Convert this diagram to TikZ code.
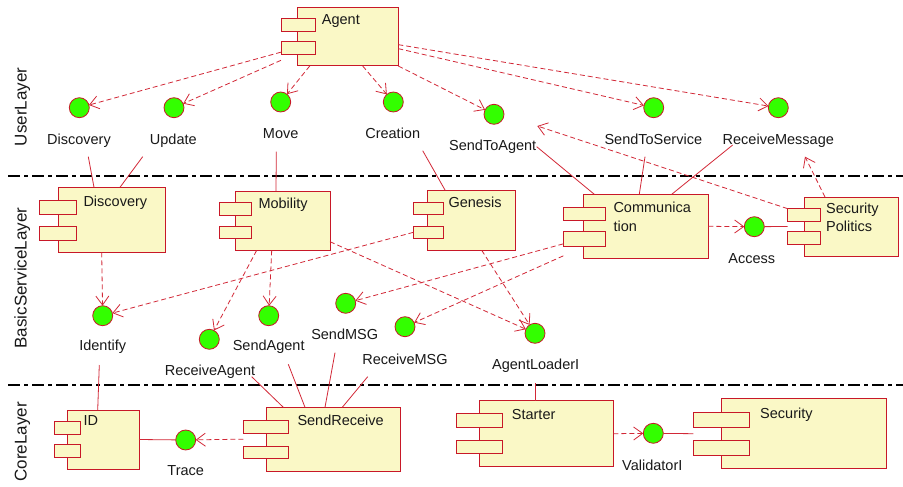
\documentclass[tikz,border=0pt]{standalone}
\usepackage{fontspec}
\setmainfont{Liberation Sans}
\usetikzlibrary{arrows.meta}
\definecolor{cred}{RGB}{200,24,40}
\definecolor{cyel}{RGB}{250,248,198}
\definecolor{igreen}{RGB}{51,255,0}
\definecolor{cline}{RGB}{210,40,55}
\definecolor{txt}{RGB}{25,25,25}
\newcommand\ubox[6]{\node[#1, anchor=north west, minimum width={(#5)-(#3)}, minimum height={(#6)-(#4)}] (#2) at (#3,#4) {};}
\tikzset{
  comp/.style={draw=cred, fill=cyel, line width=1pt, inner sep=0pt, outer sep=0pt, rectangle},
  port/.style={comp},
  iface/.style={circle, draw=cred, fill=igreen, minimum size=20pt, inner sep=0pt, outer sep=0pt, line width=0.8pt},
  ctext/.style={font=\fontsize{14.5}{17}\selectfont, text=txt, inner sep=0pt, text height=10.4pt, text depth=0pt},
  ltext/.style={font=\fontsize{17}{20}\selectfont, text=txt, inner sep=0pt, rotate=90, text height=12.2pt, text depth=0pt},
  dep/.style={draw=cline, line width=0.8pt, dash pattern=on 5pt off 3pt, -{Straight Barb[length=9pt,width=13pt]}},
  real/.style={draw=cline, line width=0.8pt},
  layerline/.style={draw=black, line width=1.8pt, dash pattern=on 12pt off 4pt on 4pt off 4pt}
}
\begin{document}
\begin{tikzpicture}[x=1pt,y=-1pt]
\useasboundingbox[fill=white] (0,0) rectangle (903,487);
% layer separators
\draw[layerline] (8,176) -- (903,176);
\draw[layerline] (8,385) -- (903,385);
\node[ltext] (userL) at (20.5,107) {UserLayer};
\node[ltext] (bslL) at (20.5,278) {BasicServiceLayer};
\node[ltext] (coreL) at (20.5,442) {CoreLayer};
% components
\ubox{comp}{agent}{297.7}{7.3}{398.3}{66}
\ubox{port}{agentpa}{281}{18.7}{315}{31.7}
\ubox{port}{agentpb}{281}{42}{315}{54.3}
\node[ctext, anchor=west] (agentT) at (321.7,19.3) {Agent};
\ubox{comp}{disc}{58}{187.3}{165.7}{252.3}
\ubox{port}{discpa}{39.3}{200.3}{76.7}{214}
\ubox{port}{discpb}{39.3}{226}{76.7}{240}
\node[ctext, anchor=west] (discT) at (83.3,201.7) {Discovery};
\ubox{comp}{mob}{235}{191.3}{330}{250.3}
\ubox{port}{mobpa}{219.7}{202.7}{251.3}{215.7}
\ubox{port}{mobpb}{219.7}{226}{251.3}{238.7}
\node[ctext, anchor=west] (mobT) at (258.3,203.3) {Mobility};
\ubox{comp}{gen}{427}{190}{515}{250.3}
\ubox{port}{genpa}{413.3}{202.3}{443.3}{214.3}
\ubox{port}{genpb}{413.3}{226}{443.3}{238.7}
\node[ctext, anchor=west] (genT) at (448.3,202.7) {Genesis};
\ubox{comp}{comm}{583.3}{194.3}{708.3}{258.3}
\ubox{port}{commpa}{563.3}{207.3}{605.7}{220.3}
\ubox{port}{commpb}{563.3}{231.7}{605.7}{246}
\node[ctext, anchor=west] (commTa) at (613.3,207.7) {Communica};
\node[ctext, anchor=west] (commTb) at (613.3,226.7) {tion};
\ubox{comp}{sp}{804.3}{197}{898.3}{256}
\ubox{port}{sppa}{787.7}{208.7}{820.3}{221.3}
\ubox{port}{sppb}{787.7}{231.7}{820.3}{244}
\node[ctext, anchor=west] (spTa) at (826,208.3) {Security};
\node[ctext, anchor=west] (spTb) at (826,226.7) {Politics};
\ubox{comp}{idc}{67.3}{410}{139}{469}
\ubox{port}{idcpa}{54.3}{421}{80.3}{434}
\ubox{port}{idcpb}{54.3}{444.7}{80.3}{457.3}
\node[ctext, anchor=west] (idcT) at (83.3,420.7) {ID};
\ubox{comp}{sr}{266.3}{407.3}{400.3}{471}
\ubox{port}{srpa}{243.3}{420.7}{288.3}{433}
\ubox{port}{srpb}{243.3}{446}{288.3}{458.3}
\node[ctext, anchor=west] (srT) at (297.3,420.7) {SendReceive};
\ubox{comp}{start}{479}{400.7}{613.3}{466.7}
\ubox{port}{startpa}{456.7}{413.3}{502.3}{427}
\ubox{port}{startpb}{456.7}{440}{502.3}{453.7}
\node[ctext, anchor=west] (startT) at (511.7,414.3) {Starter};
\ubox{comp}{sec}{721}{398.7}{886.3}{468.7}
\ubox{port}{secpa}{693.3}{412.3}{749}{427.3}
\ubox{port}{secpb}{693.3}{440}{749}{455}
\node[ctext, anchor=west] (secT) at (760,413.3) {Security};
% interfaces
\node[iface] (discI) at (79.3,107.7) {};
\node[ctext] (discL) at (79,139) {Discovery};
\node[iface] (updI) at (174,107.7) {};
\node[ctext] (updL) at (173.3,139) {Update};
\node[iface] (moveI) at (280.7,102) {};
\node[ctext] (moveL) at (280.7,133) {Move};
\node[iface] (creI) at (393.3,102) {};
\node[ctext] (creL) at (392.7,133) {Creation};
\node[iface] (staI) at (494,114.3) {};
\node[ctext] (staL) at (492.7,145) {SendToAgent};
\node[iface] (stsI) at (653.7,107.7) {};
\node[ctext] (stsL) at (653.3,139) {SendToService};
\node[iface] (recI) at (778.3,107.7) {};
\node[ctext] (recL) at (778.3,139) {ReceiveMessage};
\node[iface] (idfI) at (102.7,315.7) {};
\node[ctext] (idfL) at (102.7,345.7) {Identify};
\node[iface] (ragI) at (209.3,339.3) {};
\node[ctext] (ragL) at (210,370) {ReceiveAgent};
\node[iface] (sagI) at (268.7,315.7) {};
\node[ctext] (sagL) at (268.7,345.7) {SendAgent};
\node[iface] (smsgI) at (345.7,303.3) {};
\node[ctext] (smsgL) at (344.7,334) {SendMSG};
\node[iface] (rmsgI) at (405,326.7) {};
\node[ctext] (rmsgL) at (405,359) {ReceiveMSG};
\node[iface] (algI) at (535,333.3) {};
\node[ctext] (algL) at (535.7,364.3) {AgentLoaderI};
\node[iface] (accI) at (754.3,226.7) {};
\node[ctext] (accL) at (751.7,258) {Access};
\node[iface] (trI) at (185.7,440) {};
\node[ctext] (trL) at (185.7,470.7) {Trace};
\node[iface] (valI) at (653.3,433.3) {};
\node[ctext] (valL) at (652.3,465.7) {ValidatorI};
% user layer dependencies
\draw[dep] ([yshift=-4pt]agentpb.west) -- (discI);
\draw[dep] ([yshift=-6pt]agentpb.south west) -- (updI);
\draw[dep] ([xshift=12pt]agent.south west) -- (moveI);
\draw[dep] ([xshift=65pt]agent.south west) -- (creI);
\draw[dep] (agent.south east) -- (staI);
\draw[dep] ([yshift=-12pt]agent.east) -- (stsI);
\draw[dep] ([yshift=-8pt]agent.east) -- (recI);
% realizations to basic service layer
\draw[real] ([shift={(9.3pt,-17.7pt)}]discL.center) -- ([xshift=36pt]disc.north west);
\draw[real] ([shift={(-30.6pt,-17.7pt)}]updL.center) -- ([xshift=62pt]disc.north west);
\draw[real] ([shift={(-4.4pt,-18.7pt)}]moveL.center) -- ([xshift=41pt]mob.north west);
\draw[real] ([shift={(30pt,-17.7pt)}]creL.center) -- ([xshift=18pt]gen.north west);
\draw[real] ([shift={(44pt,-1.7pt)}]staL.center) -- ([xshift=11pt]comm.north west);
\draw[real] ([shift={(-8.3pt,-17.7pt)}]stsL.center) -- ([xshift=56pt]comm.north west);
\draw[real] ([shift={(-45.6pt,-6pt)}]recL.center) -- ([xshift=88.4pt]comm.north west);
\draw[dep] ([xshift=20.7pt]sp.north west) -- ([shift={(26.7pt,-17.7pt)}]recL.center);
\draw[dep] (sppa.north west) -- ([shift={(44.6pt,19pt)}]staL.center);
% basic service layer dependencies
\draw[dep] ([xshift=43.7pt]disc.south west) -- (idfI);
\draw[dep] (genpb.west) -- (idfI);
\draw[dep] ([xshift=21.7pt]mob.south west) -- (ragI);
\draw[dep] ([xshift=36.7pt]mob.south west) -- (sagI);
\draw[dep] ([yshift=8.6pt]mob.south east) -- (algI);
\draw[dep] ([xshift=54.7pt]gen.south west) -- (algI);
\draw[dep] ([yshift=-5pt]commpb.west) -- (smsgI);
\draw[dep] ([yshift=-17pt]commpb.west) -- (rmsgI);
\draw[dep] (comm.east) -- (accI);
\draw[real] (accI) -- (sp.west -| sppa.west);
% core layer
\draw[real] ([shift={(-3.4pt,-19.3pt)}]idfL.center) -- ([xshift=30.4pt]idc.north west);
\draw[real] ([shift={(41.7pt,-6.7pt)}]ragL.center) -- ([xshift=17pt]sr.north west);
\draw[real] ([shift={(19.6pt,-18.6pt)}]sagL.center) -- ([xshift=38.7pt]sr.north west);
\draw[real] ([shift={(-9.7pt,-18.7pt)}]smsgL.center) -- ([xshift=58.7pt]sr.north west);
\draw[real] ([shift={(-37.3pt,-17.7pt)}]rmsgL.center) -- ([xshift=76pt]sr.north west);
\draw[real] ([shift={(-0.7pt,-18.7pt)}]algL.center) -- ([xshift=56pt]start.north west);
\draw[real] (idc.east) -- (trI);
\draw[dep] (sr.west -| srpa.west) -- (trI);
\draw[dep] (start.east) -- (valI);
\draw[real] (valI) -- (sec.west -| secpa.west);
\end{tikzpicture}
\end{document}
